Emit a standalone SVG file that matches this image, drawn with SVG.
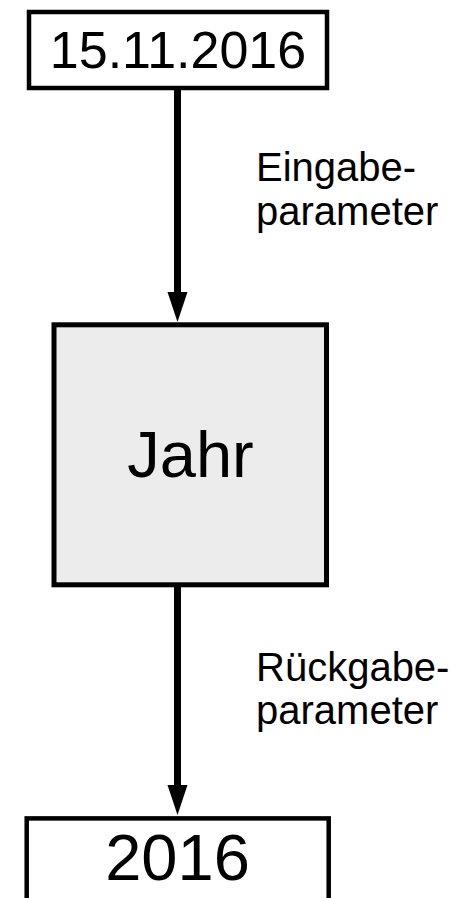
<svg xmlns="http://www.w3.org/2000/svg" width="471" height="898" viewBox="0 0 471 898">
<style>
.box{fill:#ffffff;stroke:#000000;stroke-width:4.5}
.proc{fill:#ececec;stroke:#000000;stroke-width:5}
.t{font-family:"Liberation Sans",Arial,sans-serif;fill:#000000}
.lbl{font-family:"Liberation Sans",Arial,sans-serif;font-size:40px;fill:#000000}
.edge{stroke:#000000;stroke-width:7;fill:none}
.head{fill:#000000}
</style>
<rect x="0" y="0" width="471" height="898" fill="#ffffff"/>
<g id="connectors">
<line class="edge" x1="177.5" y1="88" x2="177.5" y2="294"/>
<polygon class="head" points="167.5,292 187.5,292 177.5,322"/>
<line class="edge" x1="177.5" y1="586" x2="177.5" y2="787"/>
<polygon class="head" points="167.5,785 187.5,785 177.5,815"/>
<text class="lbl" x="256" y="181">Eingabe-</text>
<text class="lbl" x="256" y="225">parameter</text>
<text class="lbl" x="256" y="681">Rückgabe-</text>
<text class="lbl" x="256" y="724">parameter</text>
</g>
<g id="input">
<rect class="box" x="29" y="12" width="298" height="76"/>
<text class="t" x="178" y="68" font-size="52" text-anchor="middle">15.11.2016</text>
</g>
<g id="jahr">
<rect class="proc" x="54" y="324.8" width="272.5" height="260"/>
<text class="t" x="190.5" y="477" font-size="65" text-anchor="middle">Jahr</text>
</g>
<g id="output">
<rect class="box" x="26.7" y="818.4" width="302" height="120"/>
<text class="t" x="177.5" y="880" font-size="65" text-anchor="middle">2016</text>
</g>
</svg>
